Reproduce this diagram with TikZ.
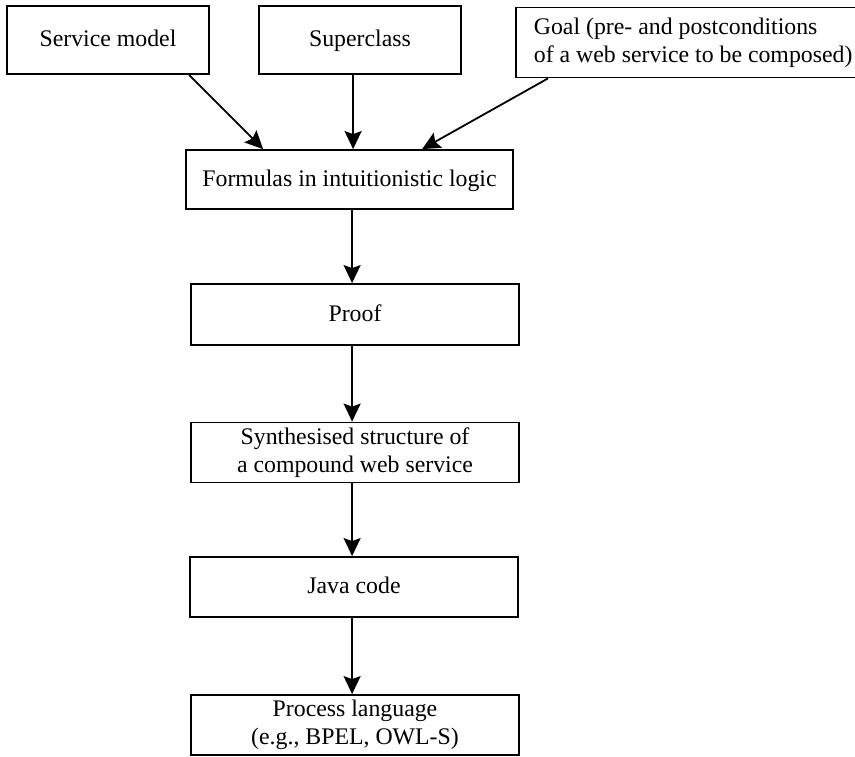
\documentclass[tikz,border=0pt]{standalone}
\usepackage{fontspec}
\setmainfont{Liberation Serif}
\usetikzlibrary{arrows.meta,calc}
\begin{document}
\begin{tikzpicture}[x=1pt,y=-1pt,
  box/.style={draw,line width=1.8pt,inner sep=0pt,align=center,
    font=\fontsize{23.8pt}{28pt}\selectfont},
  one/.style={text height=17pt,text depth=4pt},
  arr/.style={line width=1.8pt,-{Stealth[length=18pt,width=17pt,inset=3pt]}}]
\useasboundingbox (0,0) rectangle (855,756);
\node[box,one,minimum width=202pt,minimum height=68pt] (sm) at (108,40) {Service model};
\node[box,one,minimum width=202pt,minimum height=68pt] (sc) at (360,40) {Superclass};
\node[box,minimum width=360pt,minimum height=70pt,text width=324pt,inner xsep=18pt,align=flush left,anchor=west] (goal) at (515,42.5)
  {Goal (pre- and postconditions\\of a web service to be composed)};
\node[box,one,minimum width=327pt,minimum height=59pt] (form) at (349.5,179.5) {Formulas in intuitionistic logic};
\node[box,one,minimum width=328pt,minimum height=61pt] (proof) at (355,314.5) {Proof};
\node[box,minimum width=328pt,minimum height=60pt] (syn) at (355,452.5) {Synthesised structure of\\a compound web service};
\node[box,one,minimum width=328pt,minimum height=60pt] (java) at (354,587) {Java code};
\node[box,minimum width=328pt,minimum height=60pt] (proc) at (355,725) {Process language\\(e.g., BPEL, OWL-S)};
\draw[arr] ($(sm.south west)+(183,0)$) -- ($(form.north west)+(78,0)$);
\draw[arr] ($(sc.south west)+(95,0)$) -- ($(form.north west)+(168,0)$);
\draw[arr] ($(goal.south west)+(33,0)$) -- ($(form.north west)+(237,0)$);
\draw[arr] ($(form.south west)+(167,0)$) -- ($(proof.north west)+(162,0)$);
\draw[arr] ($(proof.south west)+(162,0)$) -- ($(syn.north west)+(162,0)$);
\draw[arr] ($(syn.south west)+(162,0)$) -- ($(java.north west)+(163,0)$);
\draw[arr] ($(java.south west)+(163,0)$) -- ($(proc.north west)+(162,0)$);
\end{tikzpicture}
\end{document}
